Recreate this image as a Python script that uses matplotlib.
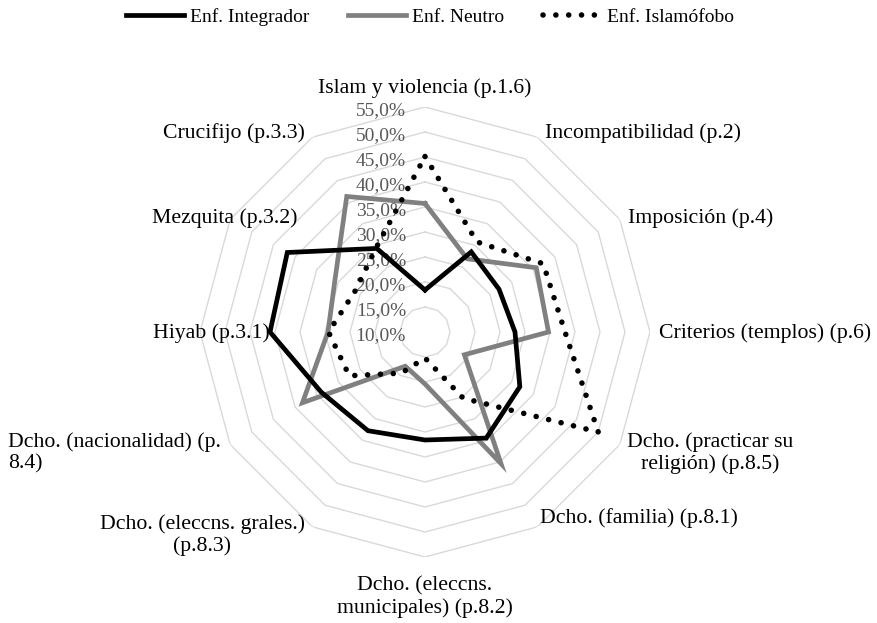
import numpy as np
import matplotlib
matplotlib.use("Agg")
import matplotlib.pyplot as plt
from matplotlib.lines import Line2D
from matplotlib.transforms import offset_copy

categories = [
    "Islam y violencia (p.1.6)",
    "Incompatibilidad (p.2)",
    "Imposición (p.4)",
    "Criterios (templos) (p.6)",
    "Dcho. (practicar su\nreligión) (p.8.5)",
    "Dcho. (familia) (p.8.1)",
    "Dcho. (eleccns.\nmunicipales) (p.8.2)",
    "Dcho. (eleccns. grales.)\n(p.8.3)",
    "Dcho. (nacionalidad) (p.\n8.4)",
    "Hiyab (p.3.1)",
    "Mezquita (p.3.2)",
    "Crucifijo (p.3.3)",
]
integrador = [18.4, 28.5, 27.1, 28.0, 31.9, 34.5, 31.6, 32.8, 34.0, 41.0, 41.8, 29.3]
neutro = [35.7, 26.9, 35.7, 34.7, 19.1, 40.4, 20.4, 17.9, 38.3, 29.4, 30.8, 41.3]
islamofobo = [45.1, 30.8, 37.3, 38.0, 50.0, 25.3, 15.2, 19.5, 27.5, 29.3, 26.2, 29.5]
series_names = ["Enf. Integrador", "Enf. Neutro", "Enf. Islamófobo"]
grid_levels = [15, 20, 25, 30, 35, 40, 45, 50, 55]
tick_levels = [10, 15, 20, 25, 30, 35, 40, 45, 50, 55]

W, H = 877, 623
plt.rcParams['font.family'] = ['Liberation Serif', 'DejaVu Serif']
fig = plt.figure(figsize=(W / 100, H / 100), dpi=100)

cx, cy, R = 425, 332, 225
ax = fig.add_axes([(cx - R) / W, (H - cy - R) / H, 2 * R / W, 2 * R / H], polar=True)
ax.set_theta_zero_location('N')
ax.set_theta_direction(-1)
ax.set_ylim(10, 55)
ax.grid(False)
ax.set_xticks([])
ax.set_yticks([])
ax.spines['polar'].set_visible(False)
ax.patch.set_visible(False)

n = len(categories)
theta = np.arange(n) * 2 * np.pi / n
theta_c = np.append(theta, theta[0])

for lv in grid_levels:
    ax.plot(theta_c, [lv] * (n + 1), color='#d9d9d9', lw=1.0, zorder=1)


def close(v):
    return list(v) + [v[0]]


DOT = (0, (0.01, 2.3))
ax.plot(theta_c, close(integrador), color='black', lw=3.4, zorder=4,
        solid_joinstyle='miter')
ax.plot(theta_c, close(neutro), color='#808080', lw=3.4, zorder=3,
        solid_joinstyle='miter')
ax.plot(theta_c, close(islamofobo), color='black', lw=4.0, zorder=5,
        linestyle=DOT, dash_capstyle='round')

# radial tick labels
tt = offset_copy(ax.transData, fig=fig, x=-19, y=-4, units='dots')
for lv in tick_levels:
    ax.text(0, lv, f"{lv:.1f}%".replace('.', ','), transform=tt, ha='right',
            va='center', fontsize=14, color='#595959', zorder=2)


def px(x, y):
    return x / W, 1 - y / H


label_pos = [
    (425, 88, 'center', 'center'),
    (545, 133, 'left', 'center'),
    (628, 218, 'left', 'center'),
    (659, 333, 'left', 'center'),
    (627, 453, 'left', 'center'),
    (540, 518, 'left', 'center'),
    (425, 597, 'center', 'center'),
    (305, 535, 'right', 'center'),
    (8, 453, 'left', 'left'),
    (270, 333, 'right', 'center'),
    (298, 218, 'right', 'center'),
    (305, 133, 'right', 'center'),
]
for lab, (x, y, ha, ma) in zip(categories, label_pos):
    fx, fy = px(x, y)
    fig.text(fx, fy, lab, ha=ha, va='center', multialignment=ma,
             fontsize=15.7, color='black', linespacing=1.2)

handles = [
    Line2D([], [], color='black', lw=3.4),
    Line2D([], [], color='#808080', lw=3.4),
    Line2D([], [], color='black', lw=4.0, linestyle=DOT, dash_capstyle='round'),
]
leg = fig.legend(handles, series_names, loc='center', bbox_to_anchor=px(430, 17),
                 ncol=3, frameon=False, fontsize=14, handlelength=3.0,
                 handletextpad=0.3, columnspacing=2.0)

fig.savefig('out.png', dpi=100, facecolor='white')
